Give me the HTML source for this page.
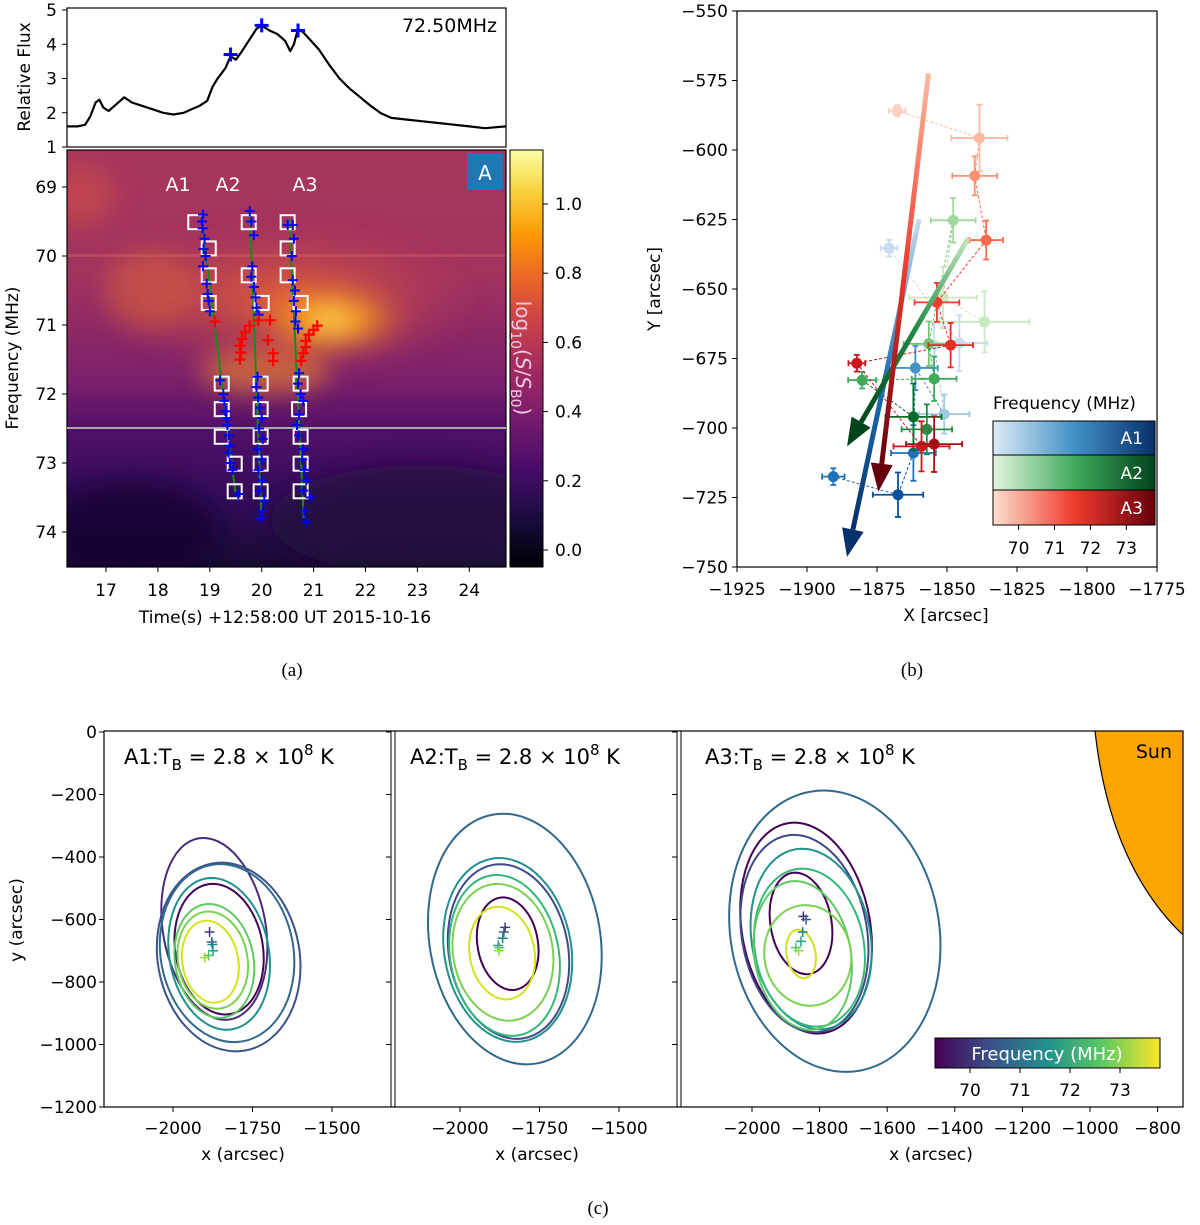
<!DOCTYPE html>
<html><head><meta charset="utf-8"><style>
html,body{margin:0;padding:0;background:#fff;}
svg{display:block;font-family:"DejaVu Sans","Liberation Sans",sans-serif;}
.t{font-size:17px;fill:#000;}
.cap{font-family:"Liberation Serif",serif;font-size:19px;}
</style></head><body>
<svg id="fig" width="1200" height="1225" viewBox="0 0 1200 1225" xmlns="http://www.w3.org/2000/svg">
<defs>
<linearGradient id="hmBase" x1="0" y1="0" x2="0" y2="1">
<stop offset="0" stop-color="#a8365e"/><stop offset="0.3" stop-color="#a2335f"/><stop offset="0.55" stop-color="#7c206c"/><stop offset="0.68" stop-color="#4f0f68"/><stop offset="0.85" stop-color="#320c58"/><stop offset="1" stop-color="#180a34"/></linearGradient>
<radialGradient id="glow1"><stop offset="0" stop-color="#fde36a"/><stop offset="0.35" stop-color="#fbab1e" stop-opacity="0.95"/><stop offset="1" stop-color="#e8602a" stop-opacity="0"/></radialGradient>
<radialGradient id="glow2"><stop offset="0" stop-color="#ea6a30" stop-opacity="0.95"/><stop offset="1" stop-color="#c8404a" stop-opacity="0"/></radialGradient>
<linearGradient id="inferno" x1="0" y1="1" x2="0" y2="0">
<stop offset="0" stop-color="#000004"/><stop offset="0.12" stop-color="#1b0c41"/><stop offset="0.24" stop-color="#4a0c6b"/><stop offset="0.36" stop-color="#781c6d"/><stop offset="0.48" stop-color="#a52c60"/><stop offset="0.6" stop-color="#cf4446"/><stop offset="0.7" stop-color="#ed6925"/><stop offset="0.8" stop-color="#fb9b06"/><stop offset="0.9" stop-color="#f7d13d"/><stop offset="1" stop-color="#fcffa4"/></linearGradient>
<linearGradient id="blues" x1="0" x2="1"><stop offset="0" stop-color="#deebf7"/><stop offset="0.5" stop-color="#4292c6"/><stop offset="1" stop-color="#08306b"/></linearGradient>
<linearGradient id="greens" x1="0" x2="1"><stop offset="0" stop-color="#e5f5e0"/><stop offset="0.5" stop-color="#41ab5d"/><stop offset="1" stop-color="#00441b"/></linearGradient>
<linearGradient id="reds" x1="0" x2="1"><stop offset="0" stop-color="#fee0d2"/><stop offset="0.5" stop-color="#ef3b2c"/><stop offset="1" stop-color="#67000d"/></linearGradient>
<linearGradient id="viridis" x1="0" x2="1"><stop offset="0" stop-color="#440154"/><stop offset="0.25" stop-color="#3b528b"/><stop offset="0.5" stop-color="#21918c"/><stop offset="0.75" stop-color="#5ec962"/><stop offset="1" stop-color="#fde725"/></linearGradient>
<linearGradient id="redArrow" x1="0" y1="0" x2="0" y2="1"><stop offset="0" stop-color="#fcbba1"/><stop offset="0.5" stop-color="#ef3b2c"/><stop offset="1" stop-color="#67000d"/></linearGradient>
<linearGradient id="blueArrow" x1="0" y1="0" x2="0" y2="1"><stop offset="0" stop-color="#c6dbef"/><stop offset="0.5" stop-color="#2171b5"/><stop offset="1" stop-color="#08306b"/></linearGradient>
<linearGradient id="greenArrow" x1="1" y1="0" x2="0" y2="1"><stop offset="0" stop-color="#c7e9c0"/><stop offset="0.5" stop-color="#238b45"/><stop offset="1" stop-color="#00441b"/></linearGradient>
<clipPath id="hmClip"><rect x="67" y="150" width="439" height="417"/></clipPath>
<filter id="blur" x="-50%" y="-50%" width="200%" height="200%"><feGaussianBlur stdDeviation="12"/></filter>
</defs>

<!-- Panel a: flux -->
<g>
<rect x="67" y="8" width="439" height="139" fill="#fff" stroke="#000" stroke-width="1.2"/>
<text class="t" x="497" y="32" text-anchor="end" style="font-size:19px">72.50MHz</text>
<g id="fluxYT"></g>
<text class="t" transform="translate(30,77) rotate(-90)" text-anchor="middle">Relative Flux</text>
<g id="fluxMarks"></g>
</g>

<!-- Panel a: heatmap -->
<g>
<g clip-path="url(#hmClip)">
<rect x="67" y="150" width="439" height="417" fill="url(#hmBase)"/>
<g filter="url(#blur)">
<ellipse cx="80" cy="195" rx="35" ry="30" fill="#d14f45" opacity="0.6"/>
<ellipse cx="290" cy="300" rx="190" ry="75" fill="url(#glow2)"/>
<ellipse cx="150" cy="290" rx="45" ry="40" fill="#d9613c" opacity="0.55"/>
<ellipse cx="330" cy="320" rx="80" ry="38" fill="url(#glow1)"/>
<ellipse cx="265" cy="372" rx="65" ry="22" fill="#f18a26" opacity="0.6"/>
<ellipse cx="420" cy="520" rx="150" ry="55" fill="#22093f" opacity="0.75"/>
<ellipse cx="130" cy="530" rx="90" ry="50" fill="#140830" opacity="0.7"/>
</g>
<rect x="67" y="254" width="439" height="3" fill="#e06a60" opacity="0.35"/>
</g>
<rect x="67" y="150" width="439" height="417" fill="none" stroke="#000" stroke-width="1.2"/>
<line x1="67" y1="428" x2="506" y2="428" stroke="#a9a9a9" stroke-width="2"/>
<g id="hmMarks"></g>
<rect x="467" y="153" width="36" height="37" fill="#1f77b4"/>
<text x="485" y="180" text-anchor="middle" fill="#fff" style="font-size:20px">A</text>
<text x="178" y="191" fill="#fff" text-anchor="middle" style="font-size:19px">A1</text>
<text x="228" y="191" fill="#fff" text-anchor="middle" style="font-size:19px">A2</text>
<text x="305" y="191" fill="#fff" text-anchor="middle" style="font-size:19px">A3</text>
<g id="hmAxes"></g>
<text class="t" transform="translate(18,358) rotate(-90)" text-anchor="middle">Frequency (MHz)</text>
<text class="t" x="285" y="623" text-anchor="middle">Time(s) +12:58:00 UT 2015-10-16</text>
</g>
<g>
<rect x="510" y="150" width="33" height="417" fill="url(#inferno)" stroke="#000" stroke-width="1"/>
<g id="cbAxes"></g>
<text transform="translate(516,358) rotate(90)" text-anchor="middle" fill="#f2c8e6" style="font-size:20px">log<tspan font-size="14" dy="5">10</tspan><tspan dy="-5">(</tspan><tspan font-style="italic">S</tspan>/<tspan font-style="italic">S</tspan><tspan font-size="14" dy="5">B0</tspan><tspan dy="-5">)</tspan></text>
</g>
<text class="cap" x="292" y="676" text-anchor="middle">(a)</text>

<!-- Panel b -->
<g>
<rect x="737" y="11" width="420" height="556" fill="#fff" stroke="#000" stroke-width="1.2"/>
<g id="bAxes"></g>
<g id="bMarks"></g>
<text class="t" transform="translate(660,289) rotate(-90)" text-anchor="middle">Y [arcsec]</text>
<text class="t" x="946" y="621" text-anchor="middle">X [arcsec]</text>
<g>
<text class="t" x="993" y="409">Frequency (MHz)</text>
<rect x="993" y="421" width="162" height="34" fill="url(#blues)" stroke="#000"/>
<rect x="993" y="455" width="162" height="35" fill="url(#greens)" stroke="#000"/>
<rect x="993" y="490" width="162" height="35" fill="url(#reds)" stroke="#000"/>
<text x="1143" y="444" fill="#fff" text-anchor="end" style="font-size:17px">A1</text>
<text x="1143" y="479" fill="#fff" text-anchor="end" style="font-size:17px">A2</text>
<text x="1143" y="514" fill="#fff" text-anchor="end" style="font-size:17px">A3</text>
<g id="legAxes"></g>
</g>
</g>
<text class="cap" x="912" y="676" text-anchor="middle">(b)</text>

<!-- Panel c -->
<g>
<path d="M1095,731 Q1110,865 1183,935 L1183,731 Z" fill="#ffa500"/>
<path d="M1095,731 Q1110,865 1183,935" fill="none" stroke="#000" stroke-width="1.2"/>
<text class="t" x="1172" y="758" text-anchor="end" style="font-size:19px">Sun</text>
<g id="cMarks"></g>
<rect x="104" y="731" width="1079" height="376" fill="none" stroke="#000" stroke-width="1.2"/>
<line x1="391" y1="731" x2="391" y2="1107" stroke="#000" stroke-width="1"/><line x1="395" y1="731" x2="395" y2="1107" stroke="#000" stroke-width="1"/>
<line x1="677" y1="731" x2="677" y2="1107" stroke="#000" stroke-width="1"/><line x1="681" y1="731" x2="681" y2="1107" stroke="#000" stroke-width="1"/>
<g id="cAxes"></g>
<text class="t" transform="translate(22,920) rotate(-90)" text-anchor="middle">y (arcsec)</text>
<text x="124" y="764" style="font-size:21px">A1:T<tspan font-size="15" dy="6">B</tspan><tspan dy="-6"> = 2.8 × 10</tspan><tspan font-size="15" dy="-9">8</tspan><tspan dy="9"> K</tspan></text>
<text x="410" y="764" style="font-size:21px">A2:T<tspan font-size="15" dy="6">B</tspan><tspan dy="-6"> = 2.8 × 10</tspan><tspan font-size="15" dy="-9">8</tspan><tspan dy="9"> K</tspan></text>
<text x="705" y="764" style="font-size:21px">A3:T<tspan font-size="15" dy="6">B</tspan><tspan dy="-6"> = 2.8 × 10</tspan><tspan font-size="15" dy="-9">8</tspan><tspan dy="9"> K</tspan></text>
<g>
<rect x="935" y="1038" width="225" height="30" fill="url(#viridis)" stroke="#000"/>
<text x="1047" y="1060" fill="#fff" text-anchor="middle" style="font-size:18px">Frequency (MHz)</text>
<g id="vAxes"></g>
</g>
</g>
<text class="cap" x="598" y="1214" text-anchor="middle">(c)</text>
</svg>
<script>
// ---- data: flux ----
const fluxT=[16.25,16.45,16.6,16.7,16.8,16.87,16.95,17.05,17.2,17.35,17.5,17.7,17.9,18.1,18.3,18.5,18.65,18.8,18.95,19.05,19.15,19.3,19.4,19.5,19.6,19.75,19.9,20.0,20.15,20.3,20.45,20.55,20.62,20.7,20.8,20.95,21.1,21.3,21.5,21.7,21.9,22.1,22.3,22.5,22.8,23.1,23.4,23.7,24.0,24.3,24.7];
const fluxV=[1.6,1.6,1.65,1.9,2.3,2.38,2.15,2.05,2.25,2.45,2.3,2.2,2.1,2.0,1.95,2.0,2.1,2.2,2.35,2.75,3.0,3.3,3.65,3.55,3.75,4.1,4.45,4.55,4.4,4.3,4.1,3.8,4.0,4.45,4.35,4.1,3.85,3.4,3.0,2.7,2.45,2.2,1.98,1.85,1.8,1.75,1.7,1.65,1.6,1.55,1.6];
const peakT=[19.4,20.0,20.7];
const peakV=[3.7,4.55,4.4];
const fluxTicks=[1,2,3,4,5];
// ---- data: spectrogram ----
const timeTicks=[17,18,19,20,21,22,23,24];
const freqTicks=[69,70,71,72,73,74];
const cbTicks=[0.0,0.2,0.4,0.6,0.8,1.0];
const lineA1=[[18.83,69.38],[19.49,73.42]];
const lineA2=[[19.77,69.35],[19.99,73.71]];
const lineA3=[[20.53,69.46],[20.81,73.8]];
const boxT=[18.72,18.98,18.98,18.98,19.23,19.23,19.23,19.48,19.48, 19.75,19.75,20.0,19.98,19.98,19.98,19.98,19.98, 20.5,20.5,20.5,20.75,20.75,20.72,20.75,20.75,20.75];
const boxF=[69.51,69.89,70.28,70.68,71.85,72.22,72.62,73.01,73.41, 69.51,70.28,70.68,71.85,72.22,72.62,73.01,73.41, 69.51,69.89,70.28,70.68,71.85,72.22,72.62,73.01,73.41];
const crossT=[18.87,18.85,18.86,18.9,18.88,18.92,18.87,18.94,18.96,18.98,19.0,19.2,19.26,19.28,19.3,19.32,19.34,19.37,19.38,19.36,19.4,19.44,19.55,
19.77,19.8,19.85,19.82,19.8,19.85,19.88,19.9,19.94,19.92,19.9,19.93,19.97,20.0,19.95,20.02,19.92,20.0,19.94,20.0,19.96,20.05,20.02,19.98,
20.5,20.6,20.62,20.58,20.6,20.64,20.62,20.66,20.65,20.7,20.72,20.7,20.75,20.8,20.72,20.68,20.72,20.8,20.78,20.82,20.86,20.8,20.94,20.82,20.85];
const crossF=[69.4,69.5,69.6,69.75,69.9,70.0,70.15,70.4,70.55,70.65,70.8,71.8,72.0,72.1,72.25,72.35,72.45,72.6,72.75,72.85,73.0,73.1,73.45,
69.35,69.5,69.7,70.15,70.3,70.45,70.6,70.75,70.85,71.75,71.9,72.05,72.2,72.35,72.5,72.65,72.8,72.95,73.1,73.25,73.4,73.55,73.7,73.8,
69.55,69.55,69.75,70.0,70.35,70.5,70.65,70.8,70.95,71.05,71.7,71.85,72.0,72.1,72.3,72.45,72.6,72.8,72.95,73.1,73.25,73.4,73.5,73.7,73.85];
const redT=[19.1,19.68,19.62,19.58,19.6,19.58, 19.77,19.93,20.16,20.12,20.22,20.22, 21.07,21.0,20.91,20.85,20.85,20.8,20.76];
const redF=[70.95,71.1,71.2,71.3,71.4,71.5, 71.01,70.93,70.93,71.22,71.41,71.52, 71.01,71.07,71.14,71.23,71.32,71.41,71.52];
// ---- data: centroids ----
const bXTicks=[-1925,-1900,-1875,-1850,-1825,-1800,-1775];
const bYTicks=[-550,-575,-600,-625,-650,-675,-700,-725,-750];
const a1X=[-1870.7,-1845.6,-1854.6,-1851,-1861.3,-1862,-1867.5,-1890.6];
const a1Y=[-635.3,-669.5,-670.2,-695,-678.4,-709,-724,-717.5];
const a2X=[-1836.6,-1851.4,-1847.8,-1856.5,-1854.6,-1880.3,-1862,-1857.2];
const a2Y=[-661.8,-653.1,-625.3,-669.7,-682.3,-682.8,-696,-700.5];
const a3X=[-1867.8,-1838.4,-1840.1,-1836,-1853.6,-1848.7,-1882.2,-1859.1,-1854.6];
const a3Y=[-585.9,-595.7,-609.3,-632.4,-654.8,-670.2,-676.7,-706.6,-705.8];
const a1Ex=[3,10,6,9,8,8,9,4]; const a1Ey=[3,10,8,7,8,10,8,3];
const a2Ex=[16,12,8,9,8,5,10,9]; const a2Ey=[11,11,8,8,8,3,12,9];
const a3Ex=[3,10,8,6,8,8,3,10,10]; const a3Ey=[2,12,7,7,7,8,3,9,10];
const a1C=['#c6dbef','#c6dbef','#c6dbef','#9ecae1','#4292c6','#2171b5','#08519c','#2171b5'];
const a2C=['#c7e9c0','#c7e9c0','#a1d99b','#74c476','#41ab5d','#41ab5d','#006d2c','#238b45'];
const a3C=['#fdd0c2','#fcbba1','#fc9272','#fb6a4a','#ef3b2c','#e32f27','#cb181d','#cb181d','#a50f15'];
const arrowX0=[-1860,-1842.4,-1856.6]; const arrowY0=[-624.9,-631.7,-572.4];
const arrowX1=[-1885.7,-1885.7,-1874.5]; const arrowY1=[-746.4,-706.6,-722.9];
const legTicks=[70,71,72,73];
// ---- data: contours (top, bottom, left, right in arcsec) ----
const c1Top=[-330,-410,-415,-460,-480,-545,-570,-600];
const c1Bot=[-930,-1030,-1000,-960,-910,-920,-890,-870];
const c1Left=[-2040,-2060,-2050,-2020,-2000,-2000,-1990,-1975];
const c1Right=[-1700,-1590,-1610,-1690,-1710,-1740,-1760,-1790];
const c1Col=['#472c7a','#3b528b','#31688e','#21918c','#440154','#5ec962','#7ad151','#d2e21b'];
const c2Top=[-250,-395,-415,-450,-480,-525,-555];
const c2Bot=[-1075,-1000,-990,-980,-930,-830,-860];
const c2Left=[-2110,-2060,-2045,-2040,-2030,-1950,-1975];
const c2Right=[-1545,-1640,-1650,-1680,-1700,-1750,-1760];
const c2Col=['#31688e','#21918c','#3e4989','#35b779','#7ad151','#440154','#d2e21b'];
const c3Top=[-175,-280,-320,-365,-430,-445,-470,-550,-630];
const c3Bot=[-1100,-975,-970,-960,-950,-780,-960,-880,-790];
const c3Left=[-2080,-2040,-2040,-2010,-2000,-1950,-2000,-1970,-1900];
const c3Right=[-1430,-1640,-1650,-1640,-1660,-1760,-1700,-1700,-1810];
const c3Col=['#31688e','#440154','#3e4989','#21918c','#35b779','#440154','#5ec962','#7ad151','#d2e21b'];
const ccX1=[-1885,-1878,-1876,-1874,-1888,-1900]; const ccY1=[-640,-672,-680,-700,-715,-722];
const ccX2=[-1858,-1862,-1866,-1880,-1876,-1878]; const ccY2=[-625,-640,-660,-683,-690,-700];
const ccX3=[-1848,-1840,-1850,-1855,-1870,-1862]; const ccY3=[-590,-600,-640,-670,-690,-700];
const ccCol=['#46327e','#365c8d','#277f8e','#1fa187','#4ac16d','#a0da39'];
const cYTicks=[0,-200,-400,-600,-800,-1000,-1200];
const c12XTicks=[-2000,-1750,-1500];
const c3XTicks=[-2000,-1800,-1600,-1400,-1200,-1000,-800];
const vTicks=[70,71,72,73];

const NS='http://www.w3.org/2000/svg';
function el(tag,parent,attrs){const e=document.createElementNS(NS,tag);for(const k in attrs)e.setAttribute(k,attrs[k]);parent.appendChild(e);return e;}
function txt(parent,x,y,s,anchor,cls){const e=el('text',parent,{x:x,y:y,'text-anchor':anchor,'class':cls||'t'});e.textContent=s;return e;}
const minus=v=>String(v).replace('-','\u2212');

const fx=t=>106+(t-17)*51.9;
const fy=v=>147-(v-1)*34.25;
const hy=f=>187+(f-69)*69;
const cby=v=>550-v*346;
const bx=X=>737+(X+1925)*2.8;
const by=Y=>11+(-550-Y)*2.78;
const legx=f=>1018.6+(f-70)*35.9;
const cy=Y=>732-Y*0.3125;
const cx1=X=>173+(X+2000)*0.318;
const cx2=X=>460+(X+2000)*0.318;
const cx3=X=>752+(X+2000)*0.338;
const vx=f=>970+(f-70)*50;

function plus(g,x,y,s,color,w,name){const p=el('path',g,{d:`M${x-s},${y}H${x+s}M${x},${y-s}V${y+s}`,stroke:color,'stroke-width':w,fill:'none'});

return p;}

// flux
const fg=document.getElementById('fluxMarks');
let d='';fluxT.forEach((t,i)=>{d+=(i?'L':'M')+fx(t).toFixed(1)+','+fy(fluxV[i]).toFixed(1);});
const fl=el('path',fg,{d:d,fill:'none',stroke:'#000','stroke-width':2.2,'stroke-linejoin':'round'});


peakT.forEach((t,i)=>plus(fg,fx(t),fy(peakV[i]),7,'#0000ff',3,'flux-peak-marker'));
const fyt=document.getElementById('fluxYT');
fluxTicks.forEach(v=>{el('line',fyt,{x1:62,x2:67,y1:fy(v),y2:fy(v),stroke:'#000'});const t=txt(fyt,57,fy(v)+6,String(v),'end');

});

// spectrogram marks
const hm=document.getElementById('hmMarks');
[lineA1,lineA2,lineA3].forEach((L,i)=>{const l=el('line',hm,{x1:fx(L[0][0]),y1:hy(L[0][1]),x2:fx(L[1][0]),y2:hy(L[1][1]),stroke:'#1a8a1a','stroke-width':2});

});
boxT.forEach((t,i)=>{const r=el('rect',hm,{x:fx(t)-7,y:hy(boxF[i])-7,width:14,height:14,fill:'none',stroke:'#fff','stroke-width':2});

});
crossT.forEach((t,i)=>plus(hm,fx(t),hy(crossF[i]),5,'#0000ff',2,'burst-peak-cross'));
redT.forEach((t,i)=>plus(hm,fx(t),hy(redF[i]),5.5,'#ff0000',2.2,'secondary-cross'));
const ha=document.getElementById('hmAxes');
timeTicks.forEach(t=>{el('line',ha,{x1:fx(t),x2:fx(t),y1:567,y2:572,stroke:'#000'});const e=txt(ha,fx(t),596,String(t),'middle');

});
freqTicks.forEach(f=>{el('line',ha,{x1:62,x2:67,y1:hy(f),y2:hy(f),stroke:'#000'});const e=txt(ha,57,hy(f)+6,String(f),'end');

});
const cba=document.getElementById('cbAxes');
cbTicks.forEach(v=>{el('line',cba,{x1:543,x2:548,y1:cby(v),y2:cby(v),stroke:'#000'});const e=txt(cba,555,cby(v)+6,v.toFixed(1),'start');

});

// panel b
const ba=document.getElementById('bAxes');
bXTicks.forEach(v=>{el('line',ba,{x1:bx(v),x2:bx(v),y1:567,y2:572,stroke:'#000'});const e=txt(ba,bx(v),595,minus(v),'middle');

});
bYTicks.forEach(v=>{el('line',ba,{x1:732,x2:737,y1:by(v),y2:by(v),stroke:'#000'});const e=txt(ba,728,by(v)+6,minus(v),'end');

});
const bm=document.getElementById('bMarks');
function series(X,Y,Ex,Ey,C,name){
 for(let i=0;i<X.length-1;i++){const l=el('line',bm,{x1:bx(X[i]),y1:by(Y[i]),x2:bx(X[i+1]),y2:by(Y[i+1]),stroke:C[i+1],'stroke-width':1,'stroke-dasharray':'3,2'});
 
 }
 X.forEach((x,i)=>{const g=el('g',bm,{});
 
 
 const px=bx(x),py=by(Y[i]),ex=Ex[i]*2.8,ey=Ey[i]*2.78,c=C[i];
 el('path',g,{d:`M${px-ex},${py}H${px+ex}M${px},${py-ey}V${py+ey}M${px-ex},${py-3}v6M${px+ex},${py-3}v6M${px-3},${py-ey}h6M${px-3},${py+ey}h6`,stroke:c,'stroke-width':1.8,fill:'none'});
 el('circle',g,{cx:px,cy:py,r:5.5,fill:c});});
}
series(a1X,a1Y,a1Ex,a1Ey,a1C,'a1');
series(a2X,a2Y,a2Ex,a2Ey,a2C,'a2');
series(a3X,a3Y,a3Ex,a3Ey,a3C,'a3');
const arrFill=['url(#blueArrow)','url(#greenArrow)','url(#redArrow)'];
const headC=['#08306b','#00441b','#67000d'];
const arrNames=['a1-motion-arrow','a2-motion-arrow','a3-motion-arrow'];
arrowX0.forEach((x0,i)=>{const X0=bx(x0),Y0=by(arrowY0[i]),X1=bx(arrowX1[i]),Y1=by(arrowY1[i]);
 const dx=X1-X0,dy=Y1-Y0,L=Math.hypot(dx,dy),ux=dx/L,uy=dy/L,hl=28,hw=11;
 const bxp=X1-ux*hl,byp=Y1-uy*hl;
 const g=el('g',bm,{});
 
 
 const nx=-uy*2.5,ny=ux*2.5;
 el('path',g,{d:`M${X0+nx},${Y0+ny}L${bxp+nx},${byp+ny}L${bxp-nx},${byp-ny}L${X0-nx},${Y0-ny}Z`,fill:arrFill[i]});
 el('path',g,{d:`M${X1},${Y1}L${bxp-uy*hw},${byp+ux*hw}L${bxp+uy*hw},${byp-ux*hw}Z`,fill:headC[i]});});
const lg=document.getElementById('legAxes');
legTicks.forEach(f=>{el('line',lg,{x1:legx(f),x2:legx(f),y1:525,y2:530,stroke:'#000'});const e=txt(lg,legx(f),554,String(f),'middle');

});

// panel c
const cm=document.getElementById('cMarks');
function contours(T,B,Lf,R,C,xf,name){
 T.forEach((t,i)=>{const x0=xf(Lf[i]),x1=xf(R[i]),y0=cy(t),y1=cy(B[i]);const ccx=(x0+x1)/2,ccy=(y0+y1)/2;
 const e=el('ellipse',cm,{cx:ccx,cy:ccy,rx:(x1-x0)/2*0.95,ry:(y1-y0)/2*0.98,fill:'none',stroke:C[i],'stroke-width':2,transform:`rotate(-10 ${ccx} ${ccy})`});
 
 });
}
contours(c1Top,c1Bot,c1Left,c1Right,c1Col,cx1,'a1-contour');
contours(c2Top,c2Bot,c2Left,c2Right,c2Col,cx2,'a2-contour');
contours(c3Top,c3Bot,c3Left,c3Right,c3Col,cx3,'a3-contour');
[[ccX1,ccY1,cx1],[ccX2,ccY2,cx2],[ccX3,ccY3,cx3]].forEach(([X,Y,f])=>X.forEach((x,i)=>plus(cm,f(x),cy(Y[i]),5,ccCol[i],1.5,'source-centroid')));
const ca=document.getElementById('cAxes');
cYTicks.forEach(v=>{[104,391,677].forEach(x=>el('line',ca,{x1:x-5,x2:x,y1:cy(v),y2:cy(v),stroke:'#000'}));const e=txt(ca,97,cy(v)+6,minus(v),'end');

});
[[c12XTicks,cx1,243],[c12XTicks,cx2,537],[c3XTicks,cx3,931]].forEach(([ticks,f,mid])=>{
 ticks.forEach(v=>{el('line',ca,{x1:f(v),x2:f(v),y1:1107,y2:1112,stroke:'#000'});const e=txt(ca,f(v),1134,minus(v),'middle');
 
 });
 const e=txt(ca,mid,1160,'x (arcsec)','middle');
 
 });
const va=document.getElementById('vAxes');
vTicks.forEach(f=>{el('line',va,{x1:vx(f),x2:vx(f),y1:1068,y2:1073,stroke:'#000'});const e=txt(va,vx(f),1096,String(f),'middle');

});
</script>
</body></html>
